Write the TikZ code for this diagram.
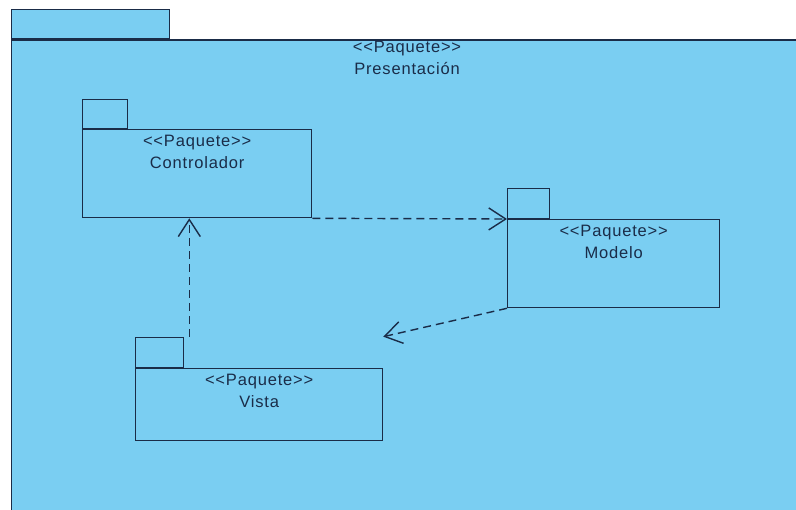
\documentclass[tikz,border=0pt]{standalone}
\usepackage{fontspec}
\setmainfont{Liberation Sans}
\newfontfamily\pkgfont[LetterSpace=5]{Liberation Sans}
\usetikzlibrary{arrows.meta}
\usetikzlibrary{positioning}
\definecolor{paqazul}{RGB}{122,206,242}
\definecolor{paqlinea}{RGB}{26,44,72}
\tikzset{
  paquete/.style={draw=paqlinea, fill=paqazul, line width=1.3pt, rectangle, anchor=north west, inner sep=0pt},
  pestana/.style={paquete, anchor=south west},
  rotulo/.style={align=center, text=paqlinea, font=\pkgfont\fontsize{16.5}{22}\selectfont, inner sep=0pt},
  dep/.style={draw=paqlinea, line width=1.4pt, dash pattern=on 8pt off 5pt, -{Straight Barb[length=17pt,width=22pt]}}
}

\begin{document}
\begin{tikzpicture}[x=1pt,y=-1pt]
  \useasboundingbox (0,0) rectangle (796,510);
  \fill[white] (0,0) rectangle (796,510);

  % Paket Presentacion
  \begin{scope}
    \clip (0,0) rectangle (796,510);
    \node[paquete, minimum width=820pt, minimum height=500pt] (pres) at (11,39.5) {};
    \node[pestana, minimum width=158pt, minimum height=29.5pt] (prestab) at (pres.north west) {};
  \end{scope}
  \node[rotulo, anchor=north] (prestxt) at (407,41) {<<Paquete>>\\Presentación};

  % Pakete
  \node[paquete, minimum width=229pt, minimum height=88pt] (ctrl) at (82,129) {};
  \node[pestana, minimum width=45pt, minimum height=29pt] (ctab) at (ctrl.north west) {};
  \node[rotulo, below=6pt of ctrl.north] (ctrltxt) {<<Paquete>>\\Controlador};

  \node[paquete, minimum width=212pt, minimum height=88pt] (modelo) at (507,219) {};
  \node[pestana, minimum width=42pt, minimum height=30pt] (mtab) at (modelo.north west) {};
  \node[rotulo, below=6pt of modelo.north] (modelotxt) {<<Paquete>>\\Modelo};

  \node[paquete, minimum width=247pt, minimum height=72pt] (vista) at (135,368) {};
  \node[pestana, minimum width=48pt, minimum height=30pt] (vtab) at (vista.north west) {};
  \node[rotulo, below=5.5pt of vista.north] (vistatxt) {<<Paquete>>\\Vista};

  % Abhaengigkeiten
  \draw[dep] (ctrl.south east) -- (modelo.north west);
  \draw[dep] ([xshift=5pt]vtab.north east) -- ([xshift=5pt]vtab.north east |- ctrl.south);
  \draw[dep] (modelo.south west) -- (vista.north east |- vtab.north);
\end{tikzpicture}
\end{document}
